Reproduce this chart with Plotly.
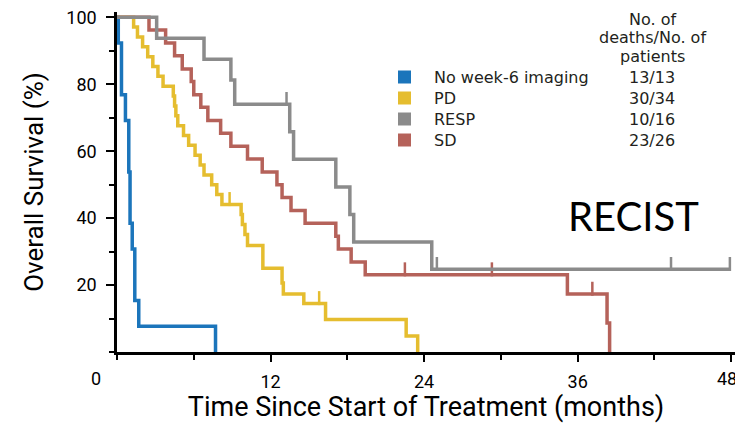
import plotly.graph_objects as go

# ---------------- data ----------------
group_names = ["No week-6 imaging", "PD", "RESP", "SD"]
group_counts = ["13/13", "30/34", "10/16", "23/26"]
group_colors = ["#1b75bb", "#e5bd2f", "#8b8b8b", "#b5625a"]
count_header = ["No. of", "deaths/No. of", "patients"]

blue_t = [0, 0.1, 0.35, 0.66, 0.92, 1.02, 1.19, 1.39, 1.7, 7.7]
blue_s = [100, 92.3, 76.9, 69.2, 53.8, 38.5, 30.8, 15.4, 7.7, 0]
blue_cens = []

pd_t = [0, 1.3, 1.6, 2.0, 2.4, 2.8, 3.2, 3.6, 4.4, 4.5, 4.6, 4.75, 5.2, 5.6, 6.1, 6.5,
        6.8, 7.4, 7.8, 8.2, 9.7, 9.8, 10.0, 10.2, 11.4, 12.9, 13.0, 14.6, 16.3, 22.6, 23.5]
pd_s = [100, 97.1, 94.1, 91.2, 88.2, 85.3, 82.4, 79.4, 76.5, 73.5, 70.6, 67.6, 64.7, 61.8, 58.8, 55.9,
        52.9, 50.0, 47.1, 44.1, 41.1, 38.1, 35.1, 31.8, 25.0, 20.6, 17.3, 14.5, 9.7, 4.8, 0]
pd_cens = [8.8, 15.8]

resp_t = [0, 3.1, 6.8, 8.9, 9.2, 13.5, 13.8, 17.1, 18.2, 18.5, 24.6, 47.9]
resp_s = [100, 93.75, 87.5, 81.25, 74.0, 65.8, 57.6, 49.3, 41.1, 32.9, 24.7, 24.7]
resp_cens = [13.25, 25.0, 43.3, 47.9]

sd_t = [0, 2.5, 3.8, 4.5, 5.1, 5.8, 6.0, 6.55, 7.1, 8.1, 8.9, 10.2, 11.35, 12.5, 12.9,
        13.6, 14.7, 17.1, 17.3, 18.3, 19.4, 35.2, 38.3, 38.5]
sd_s = [100, 96.2, 92.3, 88.5, 84.6, 80.8, 76.9, 73.1, 69.2, 65.4, 61.5, 57.7, 53.8, 50.0, 46.2,
        42.3, 38.5, 34.6, 30.8, 26.9, 23.1, 17.3, 8.65, 0]
sd_cens = [22.5, 29.3, 37.15]

x_tickvals = [12, 24, 36, 48]
y_tickvals = [20, 40, 60, 80, 100]

series = [
    (blue_t, blue_s, blue_cens),
    (pd_t, pd_s, pd_cens),
    (resp_t, resp_s, resp_cens),
    (sd_t, sd_s, sd_cens),
]

AX = "Roboto, Liberation Sans, sans-serif"
LEG = "DejaVu Sans, Liberation Sans, sans-serif"
TXT = "#231f20"

# the page body has an 8px default margin: size the figure so that it fits the window
OFF = 8
W, H = 743 - OFF, 431 - 2 * OFF
ML, MT = 117 - OFF, 12 - OFF
MR = 8
MB = H - (352 - OFF)
PW, PH = W - ML - MR, H - MT - MB


def surv_at(ts, ss, t):
    v = ss[0]
    for ti, si in zip(ts, ss):
        if ti <= t:
            v = si
    return v


def px_x(p):  # window pixel x -> paper
    return (p - OFF - ML) / PW


def px_y(p):  # window pixel y -> paper
    return (H - MB - (p - OFF)) / PH


fig = go.Figure()

order = [0, 1, 3, 2]
for i in order:
    ts, ss, cens = series[i]
    fig.add_trace(go.Scatter(x=ts, y=ss, mode="lines",
                             line=dict(color=group_colors[i], width=3.5, shape="hv"),
                             showlegend=False, hoverinfo="skip"))
    if cens:
        cy = [surv_at(ts, ss, c) + 1.6 for c in cens]
        fig.add_trace(go.Scatter(x=cens, y=cy, mode="markers",
                                 marker=dict(symbol="line-ns", size=10,
                                             line=dict(color=group_colors[i], width=2.5)),
                                 showlegend=False, hoverinfo="skip"))

# legend block (swatch, label, count) laid out row by row
row_px = [77, 98, 119, 140]
for name, col, cnt, ry in zip(group_names, group_colors, group_counts, row_px):
    fig.add_shape(type="rect", xref="paper", yref="paper",
                  x0=px_x(398), x1=px_x(411), y0=px_y(ry + 6.5), y1=px_y(ry - 6.5),
                  fillcolor=col, line=dict(width=0))
    fig.add_annotation(x=px_x(432), y=px_y(ry), xref="paper", yref="paper", text=name,
                       showarrow=False, xanchor="left", yanchor="middle",
                       font=dict(family=LEG, size=16, color=TXT))
    fig.add_annotation(x=px_x(652), y=px_y(ry), xref="paper", yref="paper", text=cnt,
                       showarrow=False, xanchor="center", yanchor="middle",
                       font=dict(family=LEG, size=16, color=TXT))
for line, ry in zip(count_header, [19.5, 37.5, 56.5]):
    fig.add_annotation(x=px_x(652), y=px_y(ry), xref="paper", yref="paper", text=line,
                       showarrow=False, xanchor="center", yanchor="middle",
                       font=dict(family=LEG, size=16, color=TXT))

# corner "0" label and the last x label (nudged inward so it is not clipped by the window edge)
fig.add_annotation(x=0, y=0, xref="x", yref="y", text="0", showarrow=False, xshift=-21, yshift=-26,
                   font=dict(family=AX, size=18, color="black"))
fig.add_annotation(x=x_tickvals[-1], y=0, xref="x", yref="y", text=str(x_tickvals[-1]), showarrow=False,
                   xshift=-4, yshift=-26, font=dict(family=AX, size=18, color="black"))
x_ticktext = [str(v) for v in x_tickvals[:-1]] + [""]

# RECIST label
fig.add_annotation(x=px_x(633), y=px_y(216), xref="paper", yref="paper", text="RECIST", showarrow=False,
                   font=dict(family="Lato, Liberation Sans, sans-serif", size=40, color="black"),
                   xanchor="center", yanchor="middle")

fig.update_layout(
    width=W, height=H,
    margin=dict(l=ML, r=MR, t=MT, b=MB, autoexpand=False),
    paper_bgcolor="white", plot_bgcolor="white",
    showlegend=False,
    xaxis=dict(range=[0, 48.3], showline=True, linecolor="black", linewidth=2.5,
               ticks="outside", ticklen=7, tickwidth=2, tickcolor="black",
               tickmode="array", tickvals=x_tickvals, ticktext=x_ticktext,
               minor=dict(ticks="outside", ticklen=5, tickwidth=2, tickcolor="black", dtick=6, tick0=0),
               showgrid=False, zeroline=False, automargin=False, ticklabeloverflow="allow",
               ticklabelstandoff=5,
               tickfont=dict(family=AX, size=18, color="black"),
               title=dict(text="Time Since Start of Treatment (months)",
                          font=dict(family=AX, size=27, color="black"), standoff=11)),
    yaxis=dict(range=[0, 101.6], showline=True, linecolor="black", linewidth=2.5,
               ticks="outside", ticklen=8, tickwidth=2, tickcolor="black",
               tickmode="array", tickvals=y_tickvals, ticktext=[str(v) for v in y_tickvals],
               minor=dict(ticks="outside", ticklen=5, tickwidth=2, tickcolor="black", dtick=10, tick0=0),
               showgrid=False, zeroline=False, automargin=False, ticklabelstandoff=6,
               ticklabeloverflow="allow",
               tickfont=dict(family=AX, size=18, color="black"),
               title=dict(text="Overall Survival (%)",
                          font=dict(family=AX, size=26, color="black"), standoff=16)),
)

fig.write_html("out.html")
